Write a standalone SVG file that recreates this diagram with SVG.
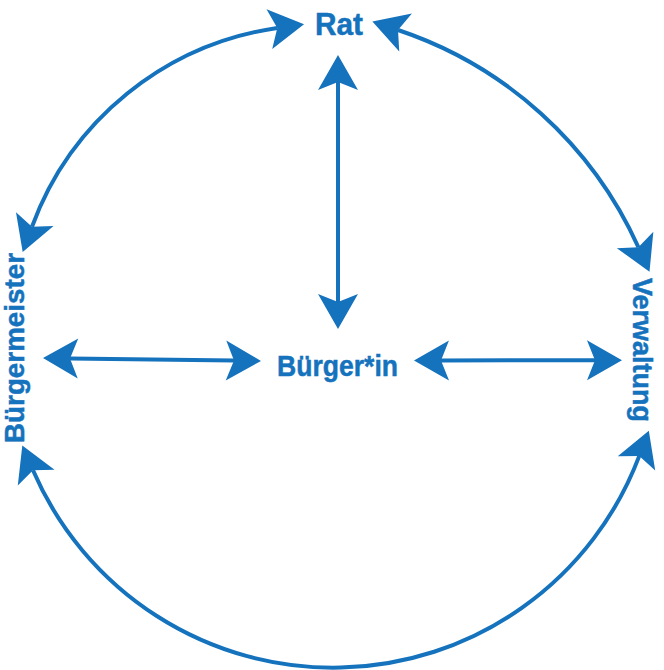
<svg xmlns="http://www.w3.org/2000/svg" width="664" height="670" viewBox="0 0 664 670">
  <style>
    .lbl { font-family: "Liberation Sans", Arial, sans-serif; font-weight: bold; fill: #1572BD; stroke: #1572BD; stroke-width: 0.5; }
    .con { fill: none; stroke: #1572BD; stroke-width: 4; marker-start: url(#arr); marker-end: url(#arr); }
  </style>
  <defs>
    <marker id="arr" markerUnits="userSpaceOnUse" markerWidth="80" markerHeight="80" refX="0" refY="0" viewBox="-40 -40 80 80" orient="auto-start-reverse" overflow="visible">
      <path d="M27,0 L-8,-20 L0,0 L-8,20 Z" fill="#1572BD"/>
    </marker>
  </defs>
  <rect width="664" height="670" fill="#ffffff"/>
  <g id="connectors">
    <path class="con" d="M32,226.7 A308 308 0 0 1 277.3,28"/>
    <path class="con" d="M398,30 A404 404 0 0 1 638.4,247.2"/>
    <path class="con" d="M33,470.2 A327 327 0 0 0 639.3,455.9"/>
    <path class="con" d="M338,82 L338,302"/>
    <path class="con" d="M70,358.4 L234,360.6"/>
    <path class="con" d="M441,360.5 L595,360.2"/>
  </g>
  <g id="node-rat">
    <text class="lbl" x="339" y="35" font-size="31" text-anchor="middle" textLength="48" lengthAdjust="spacingAndGlyphs">Rat</text>
  </g>
  <g id="node-buerger">
    <text class="lbl" x="277" y="376" font-size="30" textLength="121" lengthAdjust="spacingAndGlyphs">Bürger*in</text>
  </g>
  <g id="node-buergermeister">
    <text class="lbl" transform="translate(24,348) rotate(-90)" font-size="27" text-anchor="middle" textLength="190" lengthAdjust="spacingAndGlyphs">Bürgermeister</text>
  </g>
  <g id="node-verwaltung">
    <text class="lbl" transform="translate(633,350) rotate(90)" font-size="27" text-anchor="middle" textLength="144" lengthAdjust="spacingAndGlyphs">Verwaltung</text>
  </g>
</svg>
